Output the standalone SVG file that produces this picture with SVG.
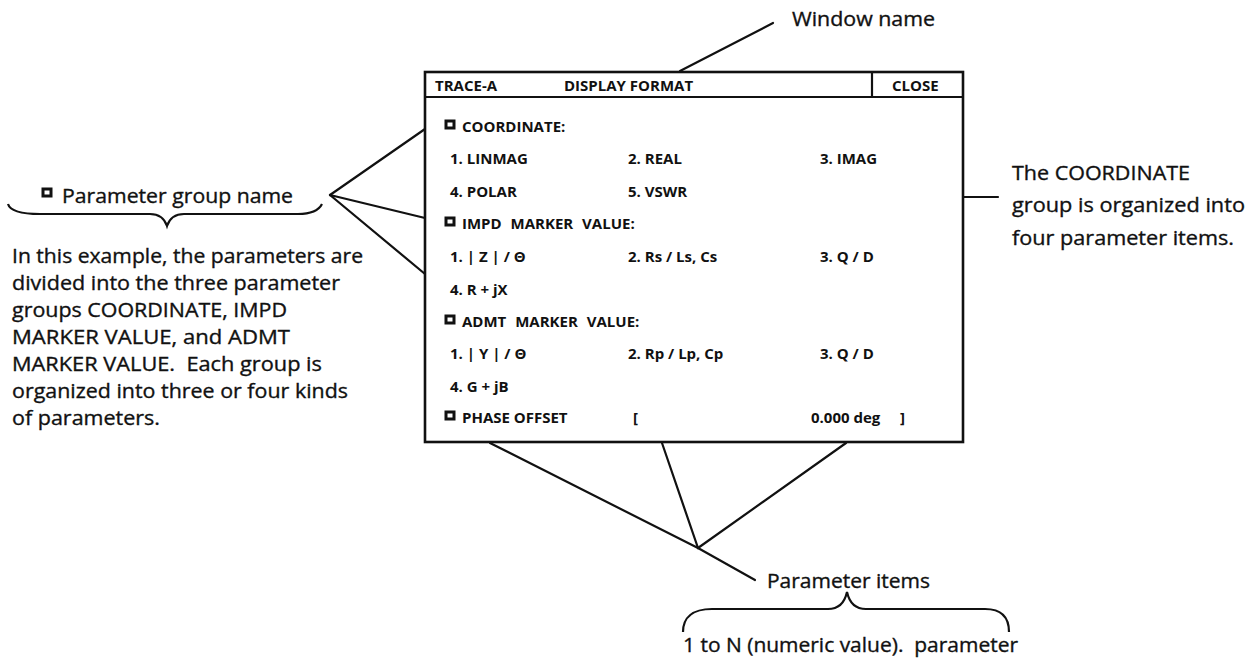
<svg xmlns="http://www.w3.org/2000/svg" width="1249" height="663" viewBox="0 0 1249 663">
  <style>
    .note { font-family: "Open Sans", "Noto Sans", "Liberation Sans", sans-serif; font-size: 20px; fill: #111; stroke: #111; stroke-width: 0.35; }
    .ui { font-family: "Open Sans", "Noto Sans", "Liberation Sans", sans-serif; font-size: 15px; font-weight: bold; fill: #111; }
    .frame { fill: #fff; stroke: #111; stroke-width: 2.6; }
    .rule { fill: none; stroke: #111; stroke-width: 2.2; }
    .lead { fill: none; stroke: #111; stroke-width: 2.2; stroke-linecap: round; }
    .bullet { fill: #fff; stroke: #111; stroke-width: 3; }
  </style>
  <defs>
    <rect id="box-bullet" class="bullet" x="0" y="0" width="8" height="7"/>
  </defs>

  <rect width="1249" height="663" fill="#fff"/>

  <!-- leader lines -->
  <g id="connectors">
    <line class="lead" x1="680" y1="71" x2="773" y2="23"/>
    <line class="lead" x1="330" y1="195" x2="425" y2="129"/>
    <line class="lead" x1="330" y1="195" x2="425" y2="218"/>
    <line class="lead" x1="330" y1="195" x2="425" y2="274"/>
    <line class="lead" x1="964" y1="197" x2="998" y2="197"/>
    <line class="lead" x1="490" y1="443" x2="698" y2="548"/>
    <line class="lead" x1="662" y1="443" x2="698" y2="548"/>
    <line class="lead" x1="846" y1="443" x2="698" y2="548"/>
    <line class="lead" x1="698" y1="548" x2="755" y2="580"/>
  </g>

  <!-- DISPLAY FORMAT window -->
  <g id="window">
    <rect class="frame" x="425" y="72" width="538" height="370"/>
    <line class="rule" x1="425" y1="97" x2="963" y2="97"/>
    <line class="rule" x1="872" y1="72" x2="872" y2="97"/>
    <text class="ui" x="435" y="91">TRACE-A</text>
    <text class="ui" x="564" y="91">DISPLAY FORMAT</text>
    <text class="ui" x="892" y="91">CLOSE</text>

    <use href="#box-bullet" x="446" y="121"/>
    <text class="ui" x="462" y="132">COORDINATE:</text>
    <text class="ui" x="450" y="164">1. LINMAG</text>
    <text class="ui" x="628" y="164">2. REAL</text>
    <text class="ui" x="820" y="164">3. IMAG</text>
    <text class="ui" x="450" y="197">4. POLAR</text>
    <text class="ui" x="628" y="197">5. VSWR</text>

    <use href="#box-bullet" x="446" y="218"/>
    <text class="ui" x="462" y="229" word-spacing="5">IMPD MARKER VALUE:</text>
    <text class="ui" x="450" y="262">1. | Z | / Θ</text>
    <text class="ui" x="628" y="262">2. Rs / Ls, Cs</text>
    <text class="ui" x="820" y="262">3. Q / D</text>
    <text class="ui" x="450" y="295">4. R + jX</text>

    <use href="#box-bullet" x="446" y="316"/>
    <text class="ui" x="462" y="327" word-spacing="5">ADMT MARKER VALUE:</text>
    <text class="ui" x="450" y="359">1. | Y | / Θ</text>
    <text class="ui" x="628" y="359">2. Rp / Lp, Cp</text>
    <text class="ui" x="820" y="359">3. Q / D</text>
    <text class="ui" x="450" y="392">4. G + jB</text>

    <use href="#box-bullet" x="446" y="412"/>
    <text class="ui" x="462" y="423">PHASE OFFSET</text>
    <text class="ui" x="633" y="423">[</text>
    <text class="ui" x="811" y="423">0.000 deg</text>
    <text class="ui" x="900" y="423">]</text>
  </g>

  <g id="window-name">
    <text class="note" x="792" y="26" textLength="143" lengthAdjust="spacingAndGlyphs">Window name</text>
  </g>

  <g id="group-name">
    <rect class="bullet" x="43" y="189" width="8" height="7"/>
    <text class="note" x="62" y="203" textLength="231" lengthAdjust="spacingAndGlyphs">Parameter group name</text>
    <path class="rule" d="M8,204 C10,211 20,214 40,214 L150,214 C160,214 165,220 167,226 C169,220 174,214 184,214 L298,214 C312,214 319,210 322,204"/>
  </g>

  <g id="group-note">
    <text class="note" x="12" y="263" textLength="351" lengthAdjust="spacingAndGlyphs">In this example, the parameters are</text>
    <text class="note" x="12" y="290" textLength="328" lengthAdjust="spacingAndGlyphs">divided into the three parameter</text>
    <text class="note" x="12" y="317" textLength="275" lengthAdjust="spacingAndGlyphs">groups COORDINATE, IMPD</text>
    <text class="note" x="12" y="344" textLength="278" lengthAdjust="spacingAndGlyphs">MARKER VALUE, and ADMT</text>
    <text class="note" x="12" y="371" textLength="310" lengthAdjust="spacingAndGlyphs" xml:space="preserve">MARKER VALUE.  Each group is</text>
    <text class="note" x="12" y="398" textLength="336" lengthAdjust="spacingAndGlyphs">organized into three or four kinds</text>
    <text class="note" x="12" y="425" textLength="148" lengthAdjust="spacingAndGlyphs">of parameters.</text>
  </g>

  <g id="coordinate-note">
    <text class="note" x="1012" y="180" textLength="178" lengthAdjust="spacingAndGlyphs">The COORDINATE</text>
    <text class="note" x="1012" y="212" textLength="233" lengthAdjust="spacingAndGlyphs">group is organized into</text>
    <text class="note" x="1012" y="245" textLength="222" lengthAdjust="spacingAndGlyphs">four parameter items.</text>
  </g>

  <g id="parameter-items">
    <text class="note" x="767" y="588" textLength="163" lengthAdjust="spacingAndGlyphs">Parameter items</text>
    <path class="rule" d="M683,632 C683,618 692,609 712,609 L828,609 C840,609 845,601 847,592 C849,601 854,609 866,609 L985,609 C1002,609 1009,618 1009,632"/>
    <text class="note" x="683" y="652" textLength="335" lengthAdjust="spacingAndGlyphs" xml:space="preserve">1 to N (numeric value).  parameter</text>
  </g>
</svg>
